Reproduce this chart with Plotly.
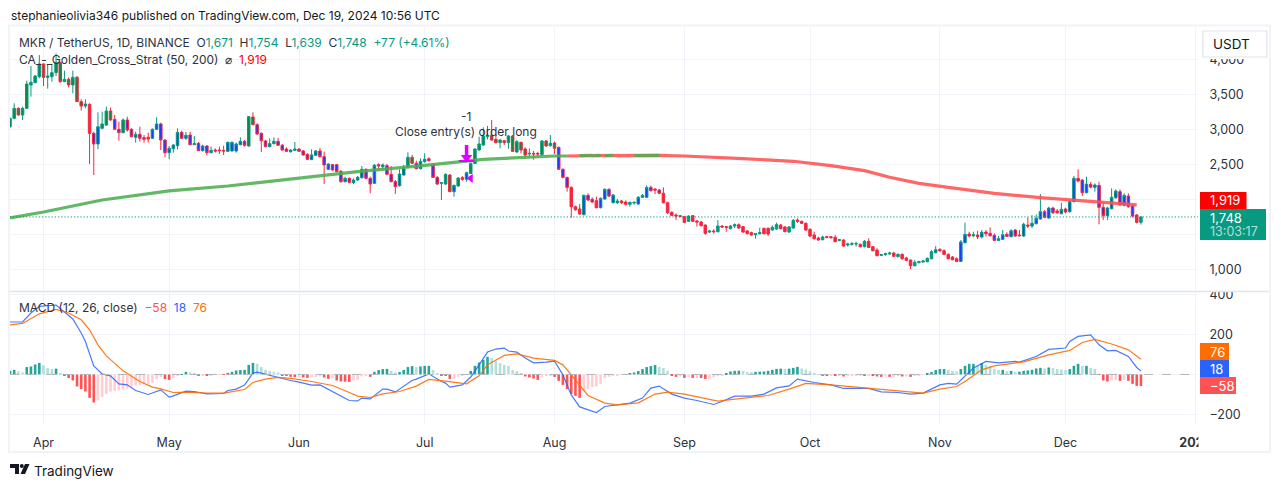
import pandas as pd
import plotly.graph_objects as go
from plotly.subplots import make_subplots

W, H = 1281, 487

# Daily candles, 24 Mar - 19 Dec 2024
dates = pd.date_range("2024-03-24", "2024-12-19", freq="D")

opens = [
    3037, 3156, 3299, 3204, 3299, 3633, 3666, 3752,
    3933, 3742, 3752, 3809, 3952, 3680, 3714, 3633, 3742, 3395, 3333, 3356, 2942, 2790, 3014, 3061, 3261, 3142, 2999, 2952, 3133, 2999, 2885, 2928, 2880, 2885, 2871, 2999, 3076, 2847,
    2666, 2723, 2766, 2956, 2871, 2918, 2780, 2799, 2695, 2761, 2666, 2704, 2704, 2699, 2685, 2690, 2690, 2780, 2828, 2761, 3176, 3066, 2942, 2833, 2752, 2795, 2828, 2771, 2718, 2680, 2699,
    2718, 2690, 2642, 2566, 2628, 2690, 2609, 2428, 2495, 2495, 2399, 2252, 2299, 2237, 2275, 2309, 2428, 2299, 2228, 2495, 2466, 2480, 2356, 2252, 2195, 2347, 2456, 2599, 2514, 2437,
    2537, 2580, 2504, 2313, 2228, 2218, 2347, 2109, 2190, 2309, 2285, 2370, 2513, 2704, 2775, 2894, 2913, 2856, 2809, 2837, 2809, 2904, 2675, 2813, 2718, 2647, 2656, 2656, 2637, 2832, 2766,
    2804, 2742, 2428, 2313, 2170, 1894, 1861, 1780, 2056, 1999, 1980, 1880, 2004, 2142, 1951, 1951, 1975, 1961, 1928, 1947, 1932, 2028, 2028, 2170, 2147, 2132, 2085, 1951, 1813, 1775, 1766,
    1751, 1685, 1766, 1690, 1675, 1632, 1532, 1547, 1537, 1618, 1609, 1580, 1618, 1637, 1609, 1547, 1523, 1494, 1509, 1585, 1585, 1561, 1575, 1632, 1604, 1532, 1590, 1704, 1685, 1656,
    1570, 1490, 1447, 1423, 1466, 1466, 1456, 1413, 1418, 1347, 1356, 1361, 1356, 1323, 1399, 1323, 1275, 1199, 1209, 1218, 1232, 1180, 1213, 1161, 1132, 1051, 1094, 1104, 1109, 1151, 1237,
    1285, 1266, 1213, 1175, 1151, 1113, 1380, 1504, 1480, 1489, 1461, 1532, 1513, 1485, 1413, 1428, 1499, 1466, 1561, 1489, 1475, 1632, 1618, 1651, 1718, 1823, 1732, 1875, 1832, 1794,
    1861, 1823, 1966, 2299, 2275, 2094, 2213, 2170, 2199, 1885, 1766, 1866, 2023, 2109, 1913, 2047, 1904, 1775, 1671,
]
highs = [
    3170, 3371, 3314, 3323, 3695, 3904, 3776, 4061,
    3942, 3933, 3933, 4085, 3966, 3837, 3742, 3837, 3761, 3428, 3428, 3371, 2966, 3242, 3252, 3323, 3309, 3204, 3109, 3156, 3180, 3014, 2966, 3037, 2918, 2952, 3014, 3171, 3095, 2857,
    2761, 2790, 3014, 2980, 2961, 2966, 2904, 2818, 2780, 2775, 2752, 2728, 2752, 2766, 2823, 2823, 2809, 2885, 2847, 3190, 3242, 3085, 2956, 2847, 2871, 2885, 2876, 2790, 2742, 2718, 2818,
    2728, 2704, 2657, 2714, 2704, 2733, 2680, 2514, 2504, 2504, 2418, 2323, 2314, 2299, 2333, 2476, 2442, 2323, 2504, 2514, 2514, 2504, 2476, 2275, 2428, 2490, 2671, 2633, 2552, 2585,
    2657, 2599, 2513, 2332, 2247, 2370, 2361, 2209, 2313, 2332, 2394, 2523, 2728, 2894, 3028, 3047, 3132, 2918, 2856, 2847, 2918, 2918, 2847, 2823, 2742, 2728, 2690, 2680, 2847, 2847, 2918,
    2823, 2751, 2442, 2323, 2185, 1909, 1932, 2066, 2085, 2028, 2037, 2028, 2156, 2156, 2075, 2004, 1990, 1985, 1966, 1970, 2047, 2075, 2199, 2199, 2156, 2147, 2170, 1966, 1828, 1799, 1775,
    1761, 1770, 1775, 1704, 1690, 1642, 1561, 1571, 1704, 1632, 1618, 1632, 1656, 1656, 1623, 1561, 1537, 1518, 1594, 1594, 1599, 1628, 1666, 1647, 1618, 1618, 1718, 1728, 1694, 1670,
    1585, 1537, 1466, 1480, 1480, 1475, 1489, 1432, 1428, 1380, 1390, 1394, 1370, 1418, 1442, 1332, 1299, 1218, 1237, 1251, 1251, 1228, 1228, 1180, 1142, 1132, 1123, 1132, 1170, 1275, 1332,
    1299, 1285, 1228, 1190, 1170, 1418, 1666, 1537, 1537, 1551, 1561, 1561, 1599, 1513, 1475, 1561, 1528, 1570, 1575, 1561, 1666, 1742, 1775, 1785, 2075, 1847, 1894, 1894, 1861, 1951,
    1880, 1990, 2332, 2428, 2290, 2323, 2247, 2228, 2251, 1966, 1894, 2156, 2142, 2142, 2085, 2085, 1913, 1790, 1754,
]
lows = [
    3020, 3142, 3195, 3133, 3290, 3466, 3657, 3728,
    3618, 3580, 3680, 3761, 3666, 3675, 3599, 3514, 3390, 3266, 3299, 2504, 2347, 2714, 3000, 3047, 3123, 2990, 2837, 2942, 2966, 2885, 2809, 2823, 2809, 2809, 2861, 2990, 2704, 2599,
    2571, 2666, 2714, 2861, 2847, 2775, 2775, 2690, 2680, 2628, 2657, 2666, 2647, 2633, 2676, 2680, 2666, 2771, 2752, 2752, 3057, 2918, 2676, 2742, 2742, 2785, 2761, 2695, 2676, 2666, 2690,
    2676, 2623, 2561, 2561, 2618, 2599, 2218, 2418, 2409, 2385, 2237, 2242, 2228, 2214, 2261, 2295, 2285, 2085, 2218, 2409, 2418, 2347, 2242, 2076, 2180, 2337, 2442, 2504, 2428, 2428,
    2523, 2542, 2304, 2204, 1990, 2204, 2104, 2037, 2180, 2266, 2251, 2361, 2504, 2694, 2766, 2856, 2837, 2799, 2728, 2775, 2723, 2675, 2666, 2656, 2585, 2609, 2566, 2609, 2628, 2751, 2751,
    2647, 2418, 2299, 2109, 1737, 1837, 1775, 1770, 1975, 1951, 1870, 1870, 1990, 2032, 1942, 1932, 1932, 1913, 1894, 1923, 1923, 2018, 2018, 2113, 2075, 2075, 1942, 1790, 1761, 1704, 1742,
    1661, 1675, 1675, 1609, 1613, 1494, 1518, 1509, 1528, 1594, 1537, 1570, 1590, 1580, 1523, 1499, 1480, 1437, 1499, 1499, 1475, 1551, 1566, 1570, 1532, 1523, 1580, 1661, 1647, 1551,
    1456, 1423, 1409, 1413, 1442, 1442, 1385, 1399, 1323, 1323, 1337, 1323, 1313, 1313, 1304, 1256, 1185, 1190, 1194, 1209, 1175, 1170, 1137, 1118, 1004, 1042, 1085, 1094, 1099, 1142, 1228,
    1251, 1204, 1142, 1128, 1104, 1104, 1370, 1456, 1456, 1432, 1442, 1466, 1466, 1404, 1404, 1418, 1461, 1456, 1466, 1466, 1461, 1590, 1590, 1642, 1709, 1728, 1718, 1790, 1790, 1785,
    1799, 1809, 1956, 2242, 2047, 2085, 2156, 2109, 1642, 1704, 1704, 1856, 2004, 1909, 1899, 1880, 1742, 1656, 1639,
]
closes = [
    3156, 3299, 3204, 3299, 3647, 3671, 3761, 3933,
    3742, 3761, 3809, 3952, 3680, 3714, 3633, 3742, 3395, 3333, 3361, 2942, 2790, 3037, 3076, 3261, 3133, 2999, 2952, 3133, 2990, 2895, 2928, 2871, 2857, 2861, 2999, 3076, 2847, 2666,
    2728, 2775, 2956, 2871, 2914, 2780, 2795, 2695, 2761, 2666, 2699, 2690, 2695, 2690, 2814, 2814, 2790, 2828, 2771, 3180, 3066, 2933, 2837, 2752, 2795, 2828, 2771, 2704, 2685, 2704, 2718,
    2685, 2633, 2571, 2633, 2690, 2609, 2490, 2504, 2418, 2395, 2252, 2299, 2242, 2275, 2314, 2428, 2299, 2218, 2485, 2476, 2490, 2356, 2252, 2180, 2361, 2452, 2599, 2514, 2437, 2542,
    2571, 2551, 2313, 2218, 2237, 2356, 2109, 2199, 2304, 2285, 2380, 2513, 2718, 2790, 2904, 2918, 2847, 2809, 2847, 2809, 2904, 2685, 2823, 2704, 2632, 2656, 2647, 2647, 2832, 2761, 2799,
    2728, 2428, 2313, 2170, 1894, 1851, 1790, 2056, 1990, 1961, 1880, 2013, 2142, 2047, 2061, 1975, 1951, 1928, 1956, 1956, 2028, 2056, 2170, 2123, 2132, 2085, 1951, 1809, 1770, 1761, 1756,
    1670, 1761, 1685, 1675, 1623, 1513, 1547, 1537, 1618, 1604, 1599, 1618, 1637, 1590, 1532, 1509, 1490, 1509, 1523, 1509, 1504, 1599, 1637, 1580, 1537, 1604, 1699, 1685, 1656, 1561,
    1475, 1437, 1418, 1461, 1456, 1451, 1394, 1423, 1332, 1361, 1366, 1366, 1323, 1399, 1313, 1266, 1194, 1209, 1223, 1232, 1185, 1213, 1151, 1128, 1051, 1099, 1109, 1118, 1156, 1251, 1280,
    1266, 1213, 1151, 1137, 1113, 1390, 1499, 1475, 1494, 1466, 1528, 1509, 1480, 1413, 1437, 1494, 1470, 1551, 1475, 1480, 1642, 1618, 1656, 1728, 1823, 1742, 1875, 1809, 1809, 1856,
    1818, 1966, 2299, 2261, 2094, 2218, 2175, 2204, 1885, 1766, 1875, 2028, 2118, 1918, 2056, 1894, 1761, 1671, 1748,
]

# Body colour states of the strategy, as date spans
blue_spans = [("04-13", "04-14"), ("04-18", "04-19"), ("04-21", "05-19"), ("05-22", "06-26"), ("06-29", "07-05"),
              ("07-08", "07-08"), ("07-10", "07-11"), ("08-02", "08-04"), ("08-08", "08-10"), ("08-12", "08-15"),
              ("08-21", "08-21"), ("08-23", "08-26"), ("10-31", "10-31"), ("11-06", "12-17")]
green_spans = [("03-24", "04-11"), ("04-15", "04-17"), ("04-20", "04-20"), ("05-20", "05-21"), ("06-27", "06-28"),
               ("07-06", "07-07"), ("07-09", "07-09"), ("07-12", "08-01")]

# Golden cross strategy line, read at intervals
ma_dates = ["2024-03-24", "2024-04-01", "2024-04-15", "2024-05-01", "2024-05-15", "2024-06-01",
            "2024-06-15", "2024-07-01", "2024-07-15", "2024-08-01", "2024-08-10", "2024-08-26",
            "2024-09-01", "2024-09-15", "2024-09-27", "2024-10-06", "2024-10-14", "2024-10-20",
            "2024-10-27", "2024-11-03", "2024-11-14", "2024-11-25", "2024-12-02", "2024-12-18"]
ma_values = [1733, 1818, 1990, 2119, 2190, 2304, 2394, 2485, 2571, 2618, 2624, 2628,
             2618, 2580, 2543, 2480, 2409, 2314, 2228, 2171, 2085, 2023, 1990, 1919]
ma_green_end = "2024-08-04"
ma_green_spans = [("2024-08-07", "2024-08-10"), ("2024-08-10", "2024-08-12"),
                  ("2024-08-13", "2024-08-15"), ("2024-08-20", "2024-08-26")]

# MACD panel
hist = [
    18, 23, 15, 10, 37, 40, 50, 58,
    47, 33, 28, 29, 7, -3, -18, -30, -60, -73, -85, -117, -140, -130, -113, -97, -85, -82, -80, -72, -70, -60, -55, -52, -48, -47, -42, -23, -12, -23,
    -27, -18, -3, 1, 13, 10, 7, -3, -3, -7, -3, -2, -1, -2, 8, 13, 20, 22, 23, 48, 58, 53, 37, 23, 17, 13, 10, -3, -7, -12, -13,
    -13, -15, -17, -13, -12, -10, -15, -22, -20, -30, -35, -36, -37, -30, -27, -10, -7, -12, 13, 22, 27, 28, 18, 10, 12, 23, 37, 42, 37, 40,
    43, 43, 23, 7, -5, -7, -22, -22, -13, -7, 0, 18, 43, 60, 73, 88, 83, 67, 57, 48, 43, 22, 17, 7, -10, -15, -20, -27, -13, -7, -4,
    -12, -32, -52, -73, -97, -107, -117, -80, -72, -63, -60, -47, -18, -12, -7, -3, -2, 1, 7, 10, 17, 27, 37, 42, 47, 38, 32, 18, -3, -12, -11,
    -17, -12, -17, -17, -18, -22, -20, -13, -8, -5, 3, 15, 18, 19, 17, 13, 12, 13, 14, 15, 18, 23, 28, 29, 28, 29, 33, 38, 30, 25,
    15, 7, 1, -5, -7, -6, -8, -7, -10, -9, -8, -8, -5, -6, -4, -8, -10, -12, -10, -12, -11, -8, -10, -10, -12, -8, -5, -2, 7, 12, 22,
    27, 27, 23, 18, 15, 27, 43, 53, 53, 43, 57, 47, 43, 27, 23, 23, 17, 18, 13, 14, 18, 20, 23, 30, 33, 30, 35, 32, 27, 25,
    22, 27, 43, 53, 43, 43, 33, 28, -2, -30, -35, -30, -27, -32, -27, -32, -47, -57, -58,
]
macd_dates = ["03-24", "03-27", "03-29", "03-31", "04-04", "04-06", "04-08", "04-10", "04-11", "04-13", "04-15", "04-17",
              "04-19", "04-21", "04-23", "04-26", "04-29", "05-01", "05-02", "05-05", "05-07", "05-10", "05-14", "05-15",
              "05-17", "05-19", "05-21", "05-22", "05-25", "05-27", "05-30", "06-01", "06-04", "06-06", "06-09", "06-11",
              "06-13", "06-15", "06-16", "06-18", "06-21", "06-22", "06-24", "06-28", "06-29", "07-02", "07-05", "07-06",
              "07-07", "07-10", "07-12", "07-14", "07-16", "07-18", "07-20", "07-21", "07-23", "07-25", "07-27", "07-30",
              "08-01", "08-03", "08-05", "08-07", "08-08", "08-11", "08-13", "08-16", "08-19", "08-22", "08-24", "08-26",
              "08-29", "09-01", "09-04", "09-08", "09-10", "09-13", "09-17", "09-20", "09-23", "09-26", "09-28", "10-02",
              "10-06", "10-09", "10-15", "10-18", "10-22", "10-25", "10-28", "11-01", "11-03", "11-05", "11-07", "11-09",
              "11-12", "11-15", "11-19", "11-20", "11-24", "11-27", "12-01", "12-02", "12-04", "12-07", "12-09", "12-11",
              "12-13", "12-16", "12-18", "12-19"]
macd_values = [262, 263, 307, 340, 347, 310, 277, 207, 165, 43, 3, -7,
               -47, -52, -80, -100, -77, -113, -107, -83, -85, -97, -95, -80,
               -73, -53, 7, 12, -5, -13, -30, -38, -53, -52, -85, -110,
               -130, -132, -118, -122, -73, -73, -87, -30, -23, 3, -35, -43,
               -63, -52, -13, 48, 112, 127, 132, 117, 112, 82, 58, 62,
               67, -2, -102, -162, -170, -190, -160, -153, -143, -118, -68, -58,
               -98, -118, -130, -150, -135, -108, -108, -98, -67, -57, -23, -40,
               -52, -70, -70, -87, -90, -98, -93, -52, -45, -48, -7, 32,
               65, 58, 65, 62, 90, 125, 132, 165, 190, 198, 148, 118,
               120, 90, 35, 18]
signal_dates = ["03-24", "03-27", "03-31", "04-04", "04-07", "04-10", "04-12", "04-14", "04-16", "04-20", "04-24", "04-27",
                "04-29", "05-02", "05-05", "05-09", "05-14", "05-19", "05-21", "05-24", "05-27", "05-30", "06-04", "06-09",
                "06-13", "06-15", "06-18", "06-21", "06-25", "06-29", "07-02", "07-06", "07-11", "07-14", "07-16", "07-20",
                "07-23", "07-27", "08-01", "08-03", "08-05", "08-09", "08-13", "08-16", "08-21", "08-25", "08-28", "09-01",
                "09-09", "09-14", "09-21", "09-26", "09-30", "10-06", "10-13", "10-15", "10-19", "10-23", "10-28", "11-01",
                "11-05", "11-07", "11-11", "11-14", "11-21", "11-27", "12-02", "12-05", "12-08", "12-12", "12-16", "12-19"]
signal_values = [248, 255, 303, 325, 307, 273, 223, 148, 93, 18, -35, -63,
                 -72, -90, -88, -92, -93, -75, -40, -23, -15, -20, -35, -55,
                 -90, -108, -115, -97, -85, -58, -25, -33, -47, -7, 48, 95,
                 103, 82, 70, 48, -2, -105, -143, -152, -142, -98, -88, -98,
                 -133, -122, -105, -73, -45, -52, -65, -68, -77, -85, -93, -73,
                 -60, -35, 23, 43, 63, 98, 120, 160, 175, 152, 123, 76]

month_ticks = ["2024-04-01", "2024-05-01", "2024-06-01", "2024-07-01", "2024-08-01", "2024-09-01",
               "2024-10-01", "2024-11-01", "2024-12-01", "2025-01-01"]
month_labels = ["Apr", "May", "Jun", "Jul", "Aug", "Sep", "Oct", "Nov", "Dec", "<b>2025</b>"]
price_ticks = [1000, 1500, 2000, 2500, 3000, 3500, 4000]
price_labels = ["1,000", "", "", "2,500", "3,000", "3,500", "4,000"]
macd_ticks = [-200, 0, 200, 400]
macd_labels = ["\u2212200", "", "200", "400"]

last_close = closes[-1]
exit_arrow_day = "2024-07-11"
exit_arrow_stem = [2776, 2600]
exit_arrow_head = 2597
exit_arrow_bar = 2547
entry_day = "2024-07-12"
entry_mark_price = 2300

UP, DOWN = "#089981", "#f7253f"
BLUE, GREEN_BODY = "#1a3cff", "#0b8a45"
TEXT = "#2e323d"
GRID = "#f0f3fa"
MAGENTA = "#e000ff"
FONT = "Inter"


def fx(p):
    return p / W


def fy(p):
    return 1 - p / H


def label(text, x, y, size=12, color=TEXT, anchor="left"):
    # annotations keep about 1.5px of padding, take it off so x is where the glyphs start
    shift = -1.5 if anchor == "left" else 0
    fig.add_annotation(text=text, x=fx(x + shift), y=fy(y), xref="paper", yref="paper", showarrow=False,
                       xanchor=anchor, yanchor="middle", font=dict(family=FONT, size=size, color=color))


def box(x0, y0, x1, y1, fill, line=None, width=0):
    fig.add_shape(type="rect", xref="paper", yref="paper", x0=fx(x0), x1=fx(x1), y0=fy(y0), y1=fy(y1),
                  fillcolor=fill, line=dict(color=line, width=width))


def in_spans(day, spans):
    md = day.strftime("%m-%d")
    return any(a <= md <= b for a, b in spans)


def add_candles(mask, up_fill, down_fill):
    fig.add_trace(go.Candlestick(x=dates[mask], open=[o for o, m in zip(opens, mask) if m],
                                 high=[h for h, m in zip(highs, mask) if m], low=[l for l, m in zip(lows, mask) if m],
                                 close=[c for c, m in zip(closes, mask) if m], whiskerwidth=0,
                                 increasing=dict(line=dict(color=UP, width=1), fillcolor=up_fill),
                                 decreasing=dict(line=dict(color=DOWN, width=1), fillcolor=down_fill)), row=1, col=1)


fig = make_subplots(rows=2, cols=1, shared_xaxes=True)

# Candles by body colour
is_blue = [in_spans(d, blue_spans) for d in dates]
is_green = [in_spans(d, green_spans) for d in dates]
is_plain = [not (b or g) for b, g in zip(is_blue, is_green)]
add_candles(is_plain, UP, DOWN)
add_candles(is_blue, BLUE, BLUE)
add_candles(is_green, GREEN_BODY, GREEN_BODY)

# Strategy line, green until the cross and red after it
green_until = sum(1 for d in ma_dates if d <= "2024-08-01")
fig.add_trace(go.Scatter(x=[ma_green_end] + ma_dates[green_until:], y=[ma_values[green_until - 1]] + ma_values[green_until:],
                         mode="lines", opacity=0.88, line=dict(color="#ff5252", width=3.2)), row=1, col=1)
fig.add_trace(go.Scatter(x=ma_dates[:green_until] + [ma_green_end], y=ma_values[:green_until] + [ma_values[green_until - 1]],
                         mode="lines", opacity=0.88, line=dict(color="#4caf50", width=3.2)), row=1, col=1)
for start, end in ma_green_spans:
    fig.add_trace(go.Scatter(x=[start, end], y=[ma_values[10], ma_values[11]], mode="lines", opacity=0.8,
                             line=dict(color="#4caf50", width=3.2)), row=1, col=1)

# Strategy signals
fig.add_trace(go.Scatter(x=[exit_arrow_day] * 2, y=exit_arrow_stem, mode="lines",
                         line=dict(color=MAGENTA, width=3.5)), row=1, col=1)
fig.add_trace(go.Scatter(x=[exit_arrow_day], y=[exit_arrow_head], mode="markers",
                         marker=dict(symbol="triangle-down", size=10, color=MAGENTA, line=dict(width=0))), row=1, col=1)
fig.add_trace(go.Scatter(x=[exit_arrow_day], y=[exit_arrow_bar], mode="markers",
                         marker=dict(symbol="line-ew", size=11, color=MAGENTA, line=dict(width=2, color=MAGENTA))), row=1, col=1)
fig.add_trace(go.Scatter(x=[entry_day], y=[entry_mark_price], mode="markers",
                         marker=dict(symbol="triangle-left", size=8, color=MAGENTA, line=dict(width=0))), row=1, col=1)

# Last price line
fig.add_shape(type="line", xref="x domain", yref="y", x0=0, x1=1, y0=last_close, y1=last_close,
              line=dict(color=UP, width=1, dash="1.2px,2px"))

# MACD
hist_colors = []
for i, v in enumerate(hist):
    prev = hist[i - 1] if i else v
    if v >= 0:
        hist_colors.append("#26a69a" if v >= prev else "#b2dfdb")
    else:
        hist_colors.append("#ffcdd2" if v >= prev else "#ff5252")
fig.add_shape(type="line", xref="x2 domain", yref="y2", x0=0, x1=1, y0=0, y1=0,
              line=dict(color="#b2b5be", width=1, dash="dash"))
fig.add_trace(go.Bar(x=dates, y=hist, width=86400000 * 0.62, marker=dict(color=hist_colors, line=dict(width=0))), row=2, col=1)
fig.add_trace(go.Scatter(x=["2024-" + d for d in macd_dates], y=macd_values, mode="lines",
                         line=dict(color="#2962ff", width=1.2), opacity=0.85), row=2, col=1)
fig.add_trace(go.Scatter(x=["2024-" + d for d in signal_dates], y=signal_values, mode="lines",
                         line=dict(color="#ff6d00", width=1.2), opacity=0.9), row=2, col=1)

fig.update_xaxes(range=["2024-03-24", "2025-01-01 15:00"], tickvals=month_ticks, showgrid=True, gridcolor=GRID,
                 gridwidth=1, zeroline=False, showline=False, rangeslider=dict(visible=False),
                 domain=[fx(10), fx(1198)], automargin=False)
fig.update_xaxes(showticklabels=False, ticks="", row=1, col=1)
fig.update_xaxes(ticktext=month_labels, ticks="outside", ticklen=7, tickcolor="rgba(0,0,0,0)",
                 tickfont=dict(family=FONT, size=12.5, color=TEXT), row=2, col=1)
fig.update_yaxes(side="right", showgrid=True, gridcolor=GRID, gridwidth=1, zeroline=False, showline=False,
                 ticks="outside", ticklen=8, tickcolor="rgba(0,0,0,0)", automargin=False,
                 tickfont=dict(family=FONT, size=12.5, color=TEXT))
fig.update_yaxes(range=[690, 4461], tickvals=price_ticks, ticktext=price_labels, domain=[fy(291), fy(27)], row=1, col=1)
fig.update_yaxes(range=[-247.5, 407], tickvals=macd_ticks, ticktext=macd_labels, domain=[fy(424), fy(293)], row=2, col=1)

fig.update_layout(
    width=W, height=H, margin=dict(l=0, r=0, t=0, b=0, autoexpand=False), paper_bgcolor="white", plot_bgcolor="white",
    showlegend=False, boxgap=0.4, boxgroupgap=0, barmode="overlay", hovermode=False,
    font=dict(family=FONT, color=TEXT),
)

# Chart frame and panel separator
fig.add_shape(type="rect", xref="paper", yref="paper", x0=fx(9), x1=fx(1270), y0=fy(25.5), y1=fy(452),
              line=dict(color=GRID, width=2))
box(1199, 27, 1268.5, 59, "white")
box(1199, 284, 1268.5, 291, "white")
fig.add_shape(type="line", xref="paper", yref="paper", x0=fx(10), x1=fx(1269), y0=fy(291.5), y1=fy(291.5),
              line=dict(color="#e0e3eb", width=1.5))
box(1198.5, 426, 1268.5, 450, "white")

# USDT button
fig.add_shape(type="rect", xref="paper", yref="paper", x0=fx(1203), x1=fx(1267), y0=fy(31), y1=fy(57),
              fillcolor="white", line=dict(color="#e0e3eb", width=1.2))
label("USDT", 1212.5, 44, size=13.5, color="#131722")

# Scale labels
box(1200, 192, 1246.5, 209, "#ff0000")
box(1200, 209, 1266, 240, UP)
label("1,919", 1209, 200.5, size=13, color="white")
label("1,748", 1209, 217.5, size=13, color="white")
label("13:03:17", 1209, 231, size=12.5, color="rgba(255,255,255,0.7)")
box(1200, 343, 1229, 360, "#ff6d00")
box(1200, 360, 1229, 377, "#2962ff")
box(1200, 377, 1236, 394, "#ff5252")
label("76", 1209, 351.5, size=13, color="white")
label("18", 1209, 368.5, size=13, color="white")
label("\u221258", 1209, 385.5, size=13, color="white")

# Header, legends, footer
label("stephanieolivia346 published on TradingView.com, Dec 19, 2024 10:56 UTC", 10.5, 15.5, size=12, color="#131722")
gr = 'style="color:#089981"'
label(f'MKR / TetherUS, 1D, BINANCE  O<span {gr}>1,671</span>  H<span {gr}>1,754</span>  L<span {gr}>1,639</span>  '
      f'C<span {gr}>1,748</span>  <span {gr}>+77 (+4.61%)</span>', 18, 42.5, size=12, color=TEXT)
label('CA_-_Golden_Cross_Strat (50, 200)  \u2300  <span style="color:#ff0000">1,919</span>', 18, 59.5, size=12, color=TEXT)
label('MACD (12, 26, close)  <span style="color:#ff5252">\u221258</span>  <span style="color:#2962ff">18</span>  '
      '<span style="color:#ff6d00">76</span>', 18, 307.5, size=12, color=TEXT)
label("-1", 466, 117, size=12, anchor="center")
label("Close entry(s) order long", 466, 131, size=12, anchor="center")
label("TradingView", 33.5, 470.5, size=13.5, color="#131722")

# TradingView logo
logo = (f"M {fx(10)} {fy(464)} L {fx(19)} {fy(464)} L {fx(19)} {fy(474)} L {fx(15)} {fy(474)} L {fx(15)} {fy(468)} "
        f"L {fx(10)} {fy(468)} Z M {fx(25)} {fy(464)} L {fx(29.5)} {fy(464)} L {fx(25)} {fy(474)} L {fx(20.5)} {fy(474)} Z")
fig.add_shape(type="path", xref="paper", yref="paper", path=logo, fillcolor="#131722", line=dict(width=0))
fig.add_shape(type="circle", xref="paper", yref="paper", x0=fx(19.8), x1=fx(23.8), y0=fy(464), y1=fy(468),
              fillcolor="#131722", line=dict(width=0))

fig.write_html("out.html", config=dict(displayModeBar=False),
               post_script="document.body.style.margin='0';document.body.style.overflow='hidden';")
